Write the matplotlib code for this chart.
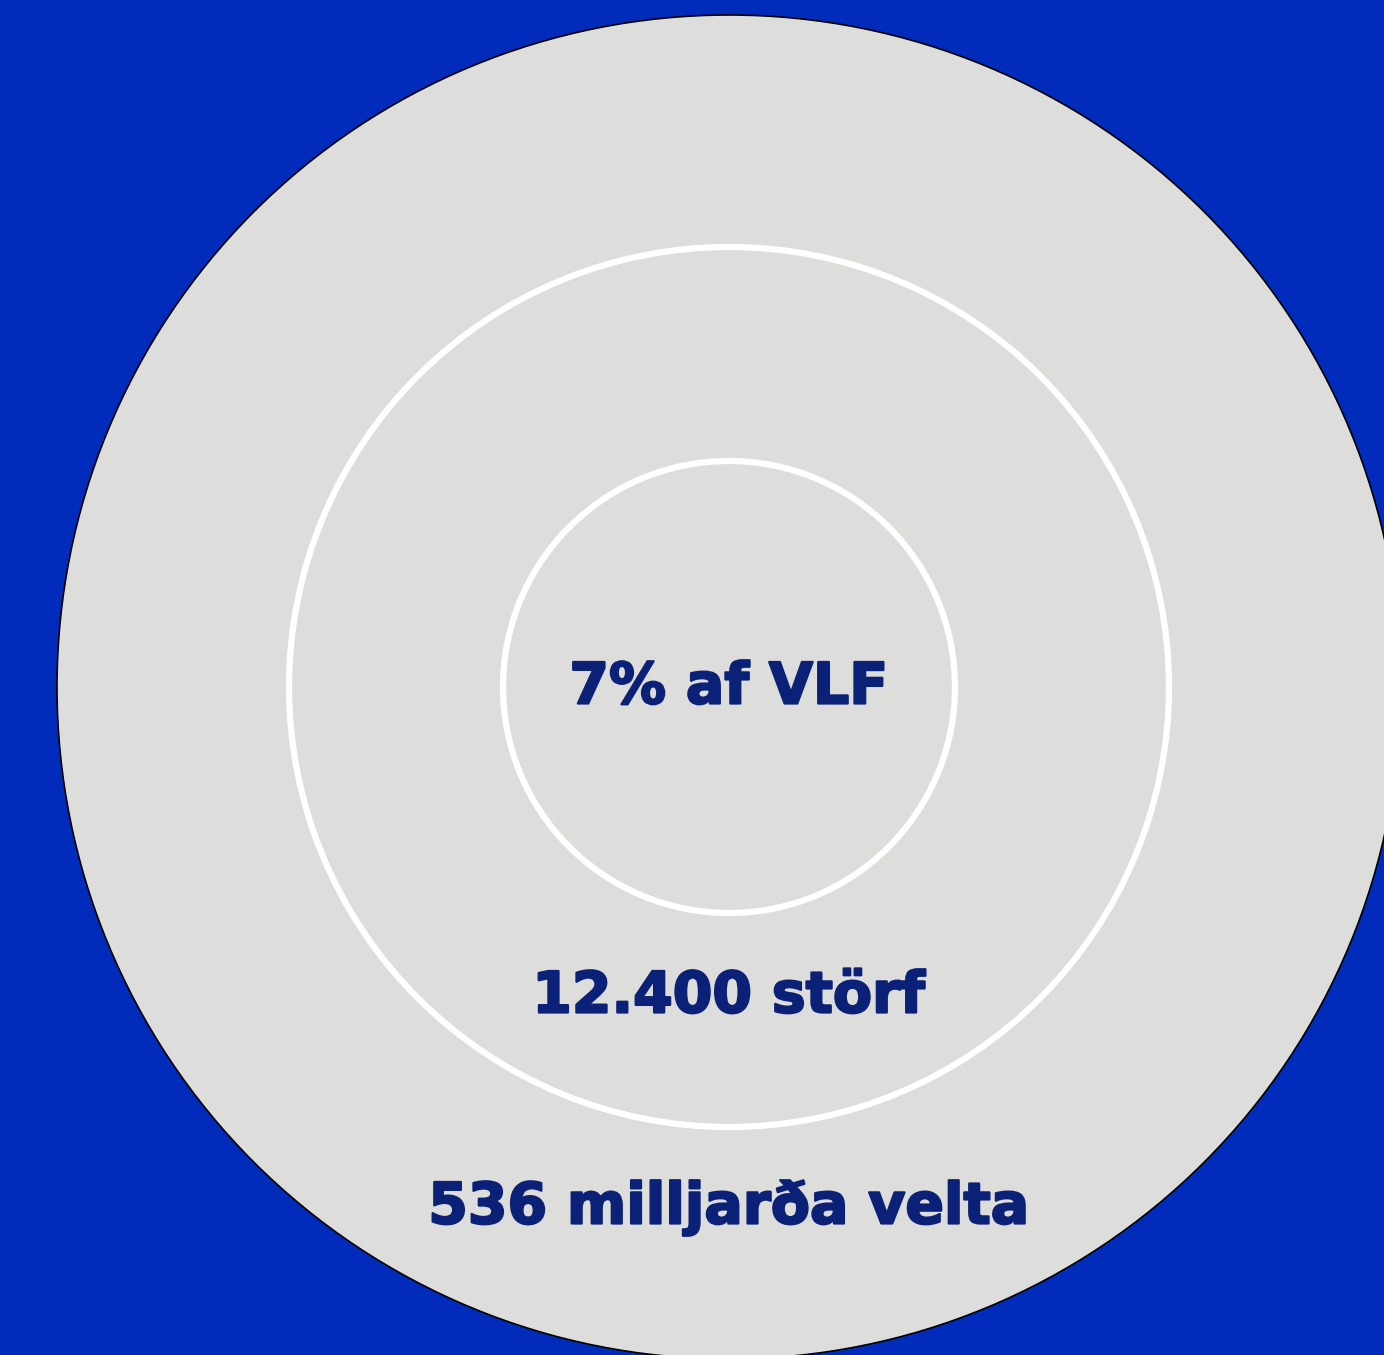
import matplotlib
matplotlib.use("Agg")
import matplotlib.pyplot as plt
import matplotlib.patches as patches
import matplotlib.patheffects as pe

# data
labels = ["536 milljarða velta", "12.400 störf", "7% af VLF"]
radii = [672, 440, 226]          # outer -> inner, pixels
label_y = [1208, 997, 688]

W, H = 1384, 1355
cx, cy = 729, 687

BG = "#002BBB"
GRAY = "#DDDDDC"
NAVY = "#0B2077"

fig = plt.figure(figsize=(W / 100, H / 100), dpi=100)
fig.patch.set_facecolor(BG)
ax = fig.add_axes([0, 0, 1, 1])
ax.set_xlim(0, W)
ax.set_ylim(H, 0)
ax.set_aspect("equal")
ax.axis("off")

for i, r in enumerate(radii):
    if i == 0:
        c = patches.Circle((cx, cy), r, facecolor=GRAY, edgecolor="black", linewidth=1.2)
    else:
        c = patches.Circle((cx, cy), r, facecolor="none", edgecolor="white", linewidth=4.5)
    ax.add_patch(c)

for lab, y in zip(labels, label_y):
    ax.text(cx, y, lab, ha="center", va="center", color=NAVY,
            fontsize=41, fontweight="bold", family=["DejaVu Sans"],
            path_effects=[pe.withStroke(linewidth=1.6, foreground=NAVY)])

fig.savefig("out.png", dpi=100, facecolor=BG)
